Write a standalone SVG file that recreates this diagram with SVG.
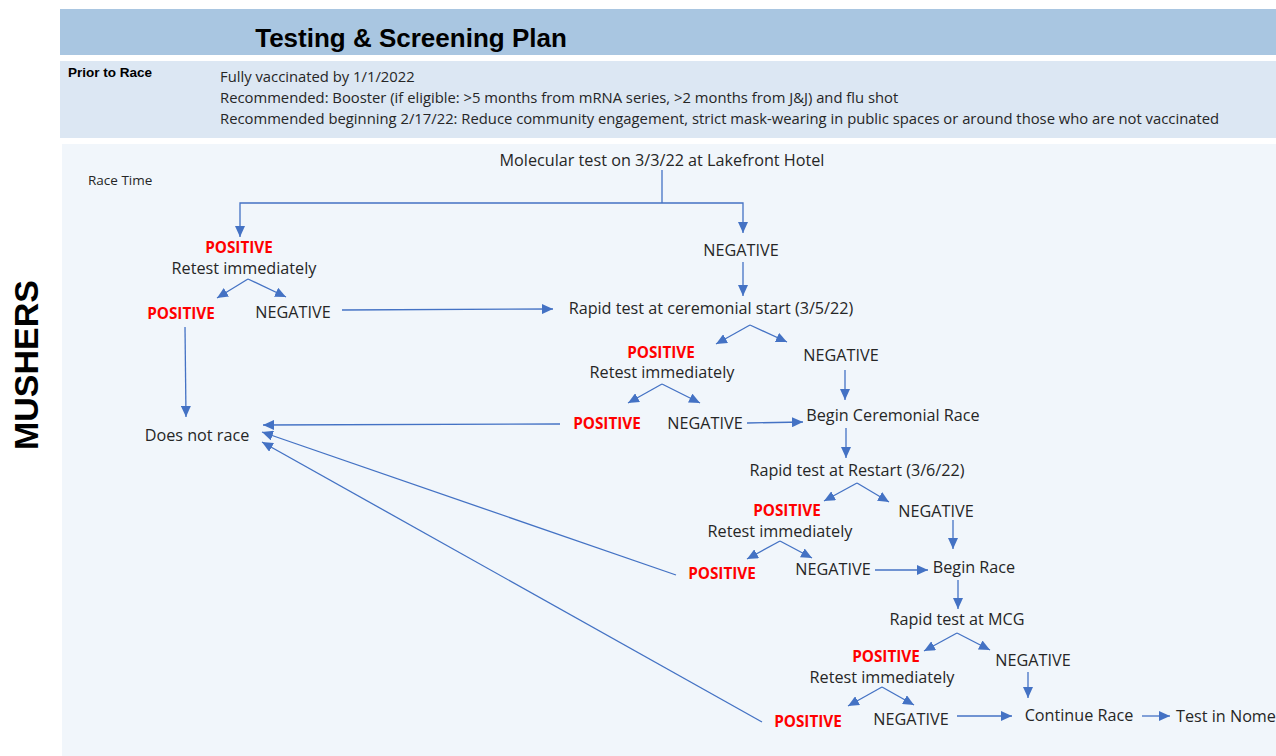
<svg xmlns="http://www.w3.org/2000/svg" width="1276" height="756" viewBox="0 0 1276 756">
<defs>
<marker id="ah" markerUnits="userSpaceOnUse" markerWidth="12" markerHeight="10" refX="11" refY="5" orient="auto">
<path d="M0,0 L11,5 L0,10 Z" fill="#4472c4"/>
</marker>
<style>
.t{font-family:"Open Sans","Liberation Sans",sans-serif;font-size:16.2px;fill:#262626;text-anchor:middle}
.p{font-family:"Open Sans","Liberation Sans",sans-serif;font-size:15.3px;font-weight:bold;fill:#ff0000;text-anchor:middle}
.s{font-family:"Open Sans","Liberation Sans",sans-serif;font-size:14.8px;fill:#262626}
.c{fill:none;stroke:#4472c4;stroke-width:1.3}
.a{fill:none;stroke:#4472c4;stroke-width:1.3;marker-end:url(#ah)}
</style>
</defs>
<rect width="1276" height="756" fill="#ffffff"/>
<g id="header">
<rect x="60" y="9" width="1216" height="46" fill="#a9c6e1"/>
<text x="411" y="47" style="font-family:'Liberation Sans',Arial,sans-serif;font-size:26px;font-weight:bold;fill:#000;text-anchor:middle">Testing &amp; Screening Plan</text>
</g>
<g id="prior">
<rect x="60" y="61" width="1216" height="77" fill="#dce7f3"/>
<text x="68" y="77" style="font-family:'Liberation Sans',Arial,sans-serif;font-size:13.5px;font-weight:bold;fill:#000">Prior to Race</text>
<text class="s" x="220" y="82">Fully vaccinated by 1/1/2022</text>
<text class="s" x="220" y="103">Recommended: Booster (if eligible: &gt;5 months from mRNA series, &gt;2 months from J&amp;J) and flu shot</text>
<text class="s" x="220" y="124">Recommended beginning 2/17/22: Reduce community engagement, strict mask-wearing in public spaces or around those who are not vaccinated</text>
</g>
<g id="race">
<rect x="62" y="144" width="1214" height="612" fill="#f1f6fb"/>
<text x="88" y="185" style="font-family:'Open Sans','Liberation Sans',sans-serif;font-size:13.5px;fill:#262626">Race Time</text>
<text transform="translate(38,365) rotate(-90)" style="font-family:'Liberation Sans',Arial,sans-serif;font-size:34px;font-weight:bold;fill:#000;text-anchor:middle">MUSHERS</text>
</g>
<g id="connectors">
<path class="c" d="M662,170 V203"/>
<path class="a" d="M662,203 H240 V237"/>
<path class="a" d="M662,203 H743 V233"/>
<path class="a" d="M248,279 L217,298"/>
<path class="a" d="M248,279 L286,297"/>
<path class="a" d="M342,310 L553,309"/>
<path class="a" d="M185,327 L186,417"/>
<path class="a" d="M743,262 V296"/>
<path class="a" d="M750,325 L716,344"/>
<path class="a" d="M750,325 L787,342"/>
<path class="a" d="M845,370 V400"/>
<path class="a" d="M662,384 L628,403"/>
<path class="a" d="M662,384 L700,403"/>
<path class="a" d="M560,424 L263,425"/>
<path class="a" d="M747,423 L803,422"/>
<path class="a" d="M846,428 V458"/>
<path class="a" d="M857,483 L824,501"/>
<path class="a" d="M857,483 L889,502"/>
<path class="a" d="M953,520 V549"/>
<path class="a" d="M780,541 L747,559"/>
<path class="a" d="M780,541 L812,558"/>
<path class="a" d="M676,575 L262,432"/>
<path class="a" d="M875,570 L928,570"/>
<path class="a" d="M958,580 V609"/>
<path class="a" d="M957,633 L924,651"/>
<path class="a" d="M957,633 L990,650"/>
<path class="a" d="M1028,672 V698"/>
<path class="a" d="M882,687 L848,706"/>
<path class="a" d="M882,687 L914,705"/>
<path class="a" d="M762,722 L262,442"/>
<path class="a" d="M957,716 L1012,716"/>
<path class="a" d="M1142,716 L1170,716"/>
</g>
<g id="n-molecular"><text class="t" x="662" y="166">Molecular test on 3/3/22  at Lakefront Hotel</text></g>
<g id="n-pos1"><text class="p" x="239" y="253">POSITIVE</text><text class="t" x="244" y="274">Retest immediately</text></g>
<g id="n-pos1b"><text class="p" x="181" y="319">POSITIVE</text></g>
<g id="n-neg1b"><text class="t" x="293" y="318">NEGATIVE</text></g>
<g id="n-dnr"><text class="t" x="197" y="441">Does not race</text></g>
<g id="n-neg1"><text class="t" x="741" y="256">NEGATIVE</text></g>
<g id="n-rapid1"><text class="t" x="711" y="314">Rapid test at ceremonial  start (3/5/22)</text></g>
<g id="n-pos2"><text class="p" x="661" y="358">POSITIVE</text><text class="t" x="662" y="378">Retest immediately</text></g>
<g id="n-neg2"><text class="t" x="841" y="361">NEGATIVE</text></g>
<g id="n-pos2b"><text class="p" x="607" y="429">POSITIVE</text></g>
<g id="n-neg2b"><text class="t" x="705" y="429">NEGATIVE</text></g>
<g id="n-begin-cer"><text class="t" x="893" y="421">Begin Ceremonial Race</text></g>
<g id="n-rapid2"><text class="t" x="857" y="476">Rapid test at Restart (3/6/22)</text></g>
<g id="n-pos3"><text class="p" x="787" y="516">POSITIVE</text><text class="t" x="780" y="537">Retest immediately</text></g>
<g id="n-neg3"><text class="t" x="936" y="517">NEGATIVE</text></g>
<g id="n-pos3b"><text class="p" x="722" y="579">POSITIVE</text></g>
<g id="n-neg3b"><text class="t" x="833" y="575">NEGATIVE</text></g>
<g id="n-begin-race"><text class="t" x="974" y="573">Begin Race</text></g>
<g id="n-rapid3"><text class="t" x="957" y="625">Rapid test at MCG</text></g>
<g id="n-pos4"><text class="p" x="886" y="662">POSITIVE</text><text class="t" x="882" y="683">Retest immediately</text></g>
<g id="n-neg4"><text class="t" x="1033" y="666">NEGATIVE</text></g>
<g id="n-pos4b"><text class="p" x="808" y="727">POSITIVE</text></g>
<g id="n-neg4b"><text class="t" x="911" y="725">NEGATIVE</text></g>
<g id="n-continue"><text class="t" x="1079" y="721">Continue  Race</text></g>
<g id="n-nome"><text class="t" x="1226" y="722">Test in Nome</text></g>
</svg>
